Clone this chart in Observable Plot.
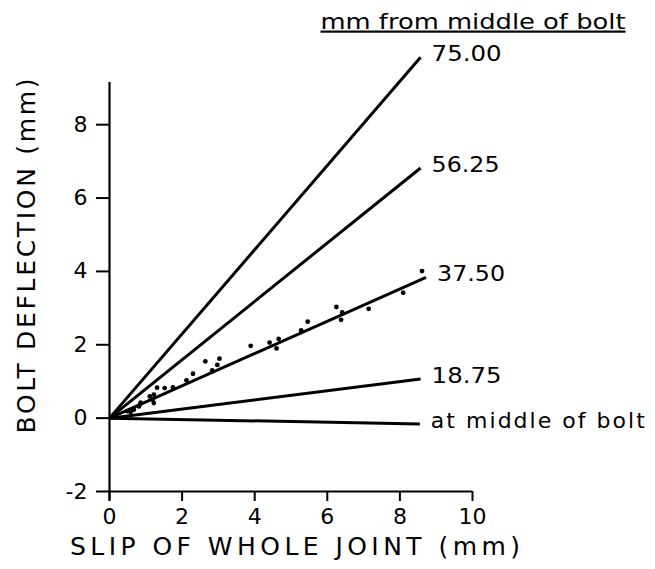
<!DOCTYPE html>
<html><head><meta charset="utf-8">
<script src="https://cdn.jsdelivr.net/npm/d3@7"></script>
<script src="https://cdn.jsdelivr.net/npm/@observablehq/plot@0.6"></script>
<style>body{margin:0;background:#fff} svg{display:block}</style>
</head><body><div id="chart"></div>
<script>
// Lines: distance from middle of bolt, end of each line (slip, deflection)
const lineLabels = ["75.00", "56.25", "37.50", "18.75", "at middle of bolt"];
const lineEndX = [8.57, 8.57, 8.72, 8.57, 8.55];
const lineEndY = [9.84, 6.82, 3.84, 1.07, -0.16];

// Measured points (slip of whole joint, bolt deflection)
const slipX = [0.49, 0.58, 0.62, 0.67, 0.81, 0.85, 0.86, 1.11, 1.19, 1.22, 1.22, 1.31, 1.52, 1.75, 2.12, 2.30, 2.64, 2.83, 2.97, 3.03, 3.89, 4.41, 4.60, 4.66, 5.28, 5.46, 6.25, 6.38, 6.41, 7.14, 8.09, 8.61];
const deflectionY = [0.19, 0.17, 0.23, 0.23, 0.32, 0.39, 0.42, 0.59, 0.50, 0.64, 0.41, 0.83, 0.82, 0.84, 1.03, 1.21, 1.55, 1.30, 1.45, 1.62, 1.97, 2.06, 1.90, 2.16, 2.39, 2.63, 3.03, 2.68, 2.88, 2.98, 3.42, 4.01];

const xTicks = [0, 2, 4, 6, 8, 10];
const yTicks = [-2, 0, 2, 4, 6, 8];
const xTitle = "SLIP OF WHOLE JOINT (mm)";
const yTitle = "BOLT DEFLECTION (mm)";
const headerText = "mm from middle of bolt";

const lines = lineLabels.map((label, i) => ({label, x2: lineEndX[i], y2: lineEndY[i]}));
const points = slipX.map((x, i) => ({x, y: deflectionY[i]}));

const chart = Plot.plot({
  width: 655, height: 569,
  marginLeft: 109, marginRight: 183, marginTop: 82, marginBottom: 78,
  x: {domain: [0, 10]},
  y: {domain: [-2, 9.15]},
  style: {fontFamily: "DejaVu Sans", background: "white", color: "black", overflow: "visible"},
  marks: [
    Plot.ruleX([0], {y1: -2.25, y2: 9.15, strokeWidth: 2.2}),
    Plot.ruleY([-2], {x1: 0, x2: 10, strokeWidth: 2.2}),
    Plot.axisX({ticks: xTicks, tickSize: 10, tickPadding: 7, fontSize: 22, strokeWidth: 2, label: null, tickFormat: d => String(d)}),
    Plot.axisY({ticks: yTicks, tickSize: 13, tickPadding: 9, fontSize: 22, strokeWidth: 2, label: null, tickFormat: d => d < 0 ? "-" + Math.abs(d) : String(d)}),
    Plot.link(lines, {x1: 0, y1: 0, x2: "x2", y2: "y2", stroke: "black", strokeWidth: 3}),
    Plot.dot(points, {x: "x", y: "y", r: 2.4, fill: "black"}),
    Plot.text(lines, {x: "x2", y: "y2", text: "label", textAnchor: "start", dx: 11, dy: -3, fontSize: 22}),
    Plot.text([yTitle], {text: d => d, frameAnchor: "left", textAnchor: "middle", rotate: -90, dx: -83, dy: -31, fontSize: 25}),
    Plot.text([xTitle], {text: d => d, frameAnchor: "bottom", textAnchor: "middle", dx: 4, dy: 63, fontSize: 25}),
    Plot.text([headerText], {text: d => d, frameAnchor: "top-left", textAnchor: "start", lineAnchor: "bottom", dx: 211, dy: -54, fontSize: 22})
  ]
});

document.getElementById("chart").append(chart);

// adjust widths of texts to the reference
const widths = {"75.00": 70, "56.25": 68, "37.50": 68, "18.75": 70, "at middle of bolt": 214};
widths[xTitle] = 450; widths[yTitle] = 355; widths[headerText] = 305;
const spaced = new Set([xTitle, yTitle, "at middle of bolt"]);
d3.select(chart).selectAll("text").each(function() {
  const t = this.textContent;
  if (widths[t]) {
    this.setAttribute("textLength", widths[t]);
    this.setAttribute("lengthAdjust", spaced.has(t) ? "spacing" : "spacingAndGlyphs");
  }
  if (t === headerText) {
    this.style.textDecoration = "underline";
  }
});
</script>
</body></html>
